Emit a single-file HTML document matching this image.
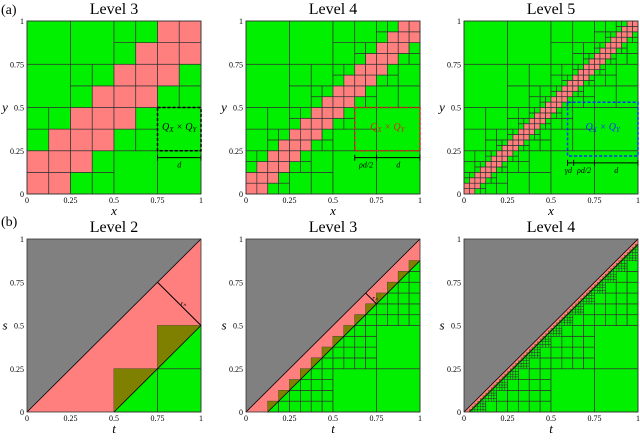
<!DOCTYPE html>
<html><head><meta charset="utf-8"><style>
body{margin:0;background:#fff;}
</style></head><body>
<svg id="fig" width="640" height="435" viewBox="0 0 640 435" xmlns="http://www.w3.org/2000/svg" font-family="'Liberation Serif', serif"></svg>
<script>
const topLevels = [3, 4, 5];
const bottomLevels = [2, 3, 4];
const tickValues = [0, 0.25, 0.5, 0.75, 1];
const tickLabels = ["0", "0.25", "0.5", "0.75", "1"];
const panelX = [27, 246, 464];
const W = 174, H = 173;
const svg = document.getElementById('fig');
const NS = 'http://www.w3.org/2000/svg';
function el(tag, attrs, parent) {
  const e = document.createElementNS(NS, tag);
  for (const k in attrs) e.setAttribute(k, attrs[k]);
  (parent || svg).appendChild(e);
  return e;
}
const GREEN = '#00f000', PINK = '#ff7f7f', GRAY = '#808080', OLIVE = '#808000', LINE = '#333';

function axes(g, X0, Y0, xl, yl) {
  const px = v => X0 + v * W, py = v => Y0 + H - v * H;
  for (let i = 0; i < tickValues.length; i++) {
    const v = tickValues[i];
    const t1 = el('text', {x: px(v), y: Y0 + H + 9, 'font-size': 8, 'text-anchor': 'middle'}, g);
    t1.textContent = tickLabels[i];
    
    
    const t2 = el('text', {x: X0 - 3, y: py(v) + 3, 'font-size': 8, 'text-anchor': 'end'}, g);
    t2.textContent = tickLabels[i];
    
    
  }
  const xa = el('text', {x: X0 + W / 2, y: Y0 + H + 21, 'font-size': 13, 'font-style': 'italic', 'text-anchor': 'middle'}, g);
  xa.textContent = xl;
  
  
  const ya = el('text', {x: X0 - 22, y: Y0 + H / 2 + 4, 'font-size': 13, 'font-style': 'italic', 'text-anchor': 'middle'}, g);
  ya.textContent = yl;
  
  
}

function title(g, X0, y, txt) {
  const t = el('text', {x: X0 + W / 2, y: y, 'font-size': 16, 'text-anchor': 'middle'}, g);
  t.textContent = txt;
  
  
}

// top row
const Yt = 21;
topLevels.forEach((L, pi) => {
  const X0 = panelX[pi];
  const g = el('g', {});
  
  
  const px = v => X0 + v * W, py = v => Yt + H - v * H;
  const leaf = 1 / Math.pow(2, L);
  function rec(x0, y0, s) {
    const dist = Math.max(x0 - (y0 + s), y0 - (x0 + s));
    if (dist >= s - 1e-9 || s <= leaf + 1e-9) {
      const pink = dist < s - 1e-9;
      const r = el('rect', {x: px(x0), y: py(y0 + s), width: s * W, height: s * H, fill: pink ? PINK : GREEN, stroke: LINE, 'stroke-width': 0.7}, g);
      
      
      return;
    }
    const h = s / 2;
    rec(x0, y0, h); rec(x0 + h, y0, h); rec(x0, y0 + h, h); rec(x0 + h, y0 + h, h);
  }
  rec(0, 0, 1);
  const fr = el('rect', {x: X0, y: Yt, width: W, height: H, fill: 'none', stroke: LINE, 'stroke-width': 0.8}, g);
  
  
  title(g, X0, 14, 'Level ' + L);
  axes(g, X0, Yt, 'x', 'y');
});

function dashBox(x0, y0, x1, y1, col, X0) {
  const px = v => X0 + v * W, py = v => Yt + H - v * H;
  const r = el('rect', {x: px(x0), y: py(y1), width: (x1 - x0) * W, height: (y1 - y0) * H, fill: 'none', stroke: col, 'stroke-width': 1.5, 'stroke-dasharray': '3,2'});
  
  
  const t = el('text', {x: px((x0 + x1) / 2), y: py((y0 + y1) / 2) + 3, 'font-size': 10, 'font-style': 'italic', 'text-anchor': 'middle', fill: col});
  
  
  const parts = [['Q', 0], ['X', 1], [' × Q', 0], ['Y', 1]];
  parts.forEach(([s, sub]) => {
    const sp = el('tspan', sub ? {'font-size': 7, dy: 2} : {'font-size': 10, dy: -2}, t);
    sp.textContent = s;
  });
}
function bracket(xs, yv, X0, labels) {
  const px = v => X0 + v * W, py = v => Yt + H - v * H;
  const l = el('line', {x1: px(xs[0]), x2: px(xs[xs.length - 1]), y1: py(yv), y2: py(yv), stroke: '#000', 'stroke-width': 1});
  
  
  xs.forEach(x => {
    const tk = el('line', {x1: px(x), x2: px(x), y1: py(yv) - 3, y2: py(yv) + 3, stroke: '#000', 'stroke-width': 1});
    
    
  });
  labels.forEach(([x, s]) => {
    const t = el('text', {x: px(x), y: py(yv) + 10, 'font-size': 8, 'font-style': 'italic', 'text-anchor': 'middle'});
    t.textContent = s;
    
    
  });
}
dashBox(0.75, 0.25, 1, 0.5, '#000', panelX[0]);
bracket([0.75, 1], 0.21, panelX[0], [[0.875, 'd']]);
dashBox(0.625, 0.25, 1, 0.5, '#e02020', panelX[1]);
bracket([0.625, 0.75, 1], 0.21, panelX[1], [[0.69, 'ρd/2'], [0.875, 'd']]);
dashBox(0.595, 0.22, 1, 0.53, '#1030ff', panelX[2]);
bracket([0.595, 0.63, 0.75, 1], 0.18, panelX[2], [[0.6, 'γd'], [0.69, 'ρd/2'], [0.875, 'd']]);

// bottom row
const Yb = 239;
const allowedSizes = [[1, 0.5, 0.25], [1, 0.5, 0.25], [1, 0.5, 0.25, 0.0625]];
bottomLevels.forEach((L, pi) => {
  const X0 = panelX[pi];
  const g = el('g', {});
  
  
  const px = v => X0 + v * W, py = v => Yb + H - v * H;
  const c = Math.pow(4, -(L - 1)), w = 2 * c;
  const allowed = allowedSizes[pi];
  const isAllowed = s => allowed.some(a => Math.abs(a - s) < 1e-9);
  const gr = el('polygon', {points: `${px(0)},${py(0)} ${px(1)},${py(1)} ${px(0)},${py(1)}`, fill: GRAY}, g);
  
  
  const pk = el('polygon', {points: `${px(0)},${py(0)} ${px(1)},${py(1)} ${px(1)},${py(0)}`, fill: PINK}, g);
  
  
  function rec(t0, s0, s) {
    if (s0 >= t0 + s) return;
    if ((t0 - (s0 + s) >= s - 1e-9 && isAllowed(s)) || (s <= c + 1e-9 && (s0 + s) - t0 <= c - w + 1e-9)) {
      const r = el('rect', {x: px(t0), y: py(s0 + s), width: s * W, height: s * H, fill: GREEN, stroke: LINE, 'stroke-width': s < 0.02 ? 0.45 : 0.7}, g);
      
      
      return;
    }
    if (s <= c + 1e-9) return;
    const h = s / 2;
    rec(t0, s0, h); rec(t0 + h, s0, h); rec(t0, s0 + h, h); rec(t0 + h, s0 + h, h);
  }
  rec(0, 0, 1);
  for (let t0 = w; t0 < 1 - 1e-9; t0 += c) {
    const tri = el('polygon', {points: `${px(t0)},${py(t0 - w)} ${px(t0)},${py(t0 - w + c)} ${px(t0 + c)},${py(t0 - w + c)}`, fill: OLIVE}, g);
    
    
  }
  const d1 = el('line', {x1: px(0), y1: py(0), x2: px(1), y2: py(1), stroke: '#000', 'stroke-width': 0.8}, g);
  
  
  const d2 = el('line', {x1: px(w), y1: py(0), x2: px(1), y2: py(1 - w), stroke: '#000', 'stroke-width': 0.8}, g);
  
  
  const fr = el('rect', {x: X0, y: Yb, width: W, height: H, fill: 'none', stroke: LINE, 'stroke-width': 0.8}, g);
  
  
  title(g, X0, 232, 'Level ' + L);
  axes(g, X0, Yb, 't', 's');
  if (L < 4) {
    const a = 1 - w / 2 - (L === 3 ? 0.25 : 0);
    const ln = el('line', {x1: px(a), y1: py(a), x2: px(a + w / 2), y2: py(a - w / 2), stroke: '#000', 'stroke-width': 1}, g);
    
    
    const t = el('text', {x: px(a + w / 4) + 4, y: py(a - w / 4) + 2, 'font-size': 7, 'font-style': 'italic', 'text-anchor': 'middle'}, g);
    t.textContent = 'rₙ';
    
    
  }
});
const la = el('text', {x: 1, y: 14, 'font-size': 14});
la.textContent = '(a)';


const lb = el('text', {x: 1, y: 226, 'font-size': 14});
lb.textContent = '(b)';


</script>
</body></html>
